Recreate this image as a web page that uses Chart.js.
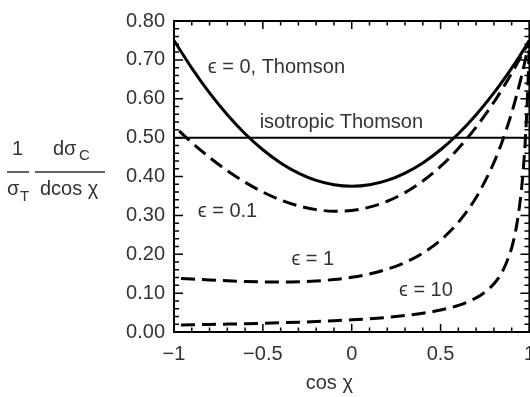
<!DOCTYPE html>
<html>
<head>
<meta charset="utf-8">
<script src="https://cdn.jsdelivr.net/npm/chart.js@4/dist/chart.umd.min.js"></script>
<style>
  html, body { margin: 0; padding: 0; background: #fff; overflow: hidden; }
  #wrap { position: relative; width: 545px; height: 397px; }
</style>
</head>
<body>
<div id="wrap"><canvas id="c"></canvas></div>
<script>
// ---- data ----
const xValues = [-1,-0.9,-0.8,-0.7,-0.6,-0.5,-0.4,-0.3,-0.2,-0.1,0,0.1,0.2,0.3,0.4,0.5,0.6,0.7,0.8,0.85,0.9,0.925,0.95,0.975,1];
const thomson = [0.75,0.6788,0.615,0.5588,0.51,0.4688,0.435,0.4088,0.39,0.3788,0.375,0.3788,0.39,0.4088,0.435,0.4688,0.51,0.5588,0.615,0.6459,0.6788,0.6958,0.7134,0.7315,0.75];
const eps01 = [0.5295,0.4873,0.4491,0.4149,0.3852,0.36,0.3397,0.3245,0.3148,0.3107,0.3127,0.3211,0.3363,0.3585,0.3883,0.426,0.4721,0.527,0.5913,0.6271,0.6654,0.6856,0.7064,0.7279,0.75];
const eps1 = [0.1389,0.1362,0.1338,0.1317,0.1301,0.129,0.1287,0.1294,0.1313,0.1349,0.1406,0.1492,0.1615,0.1788,0.2029,0.2361,0.2821,0.346,0.4358,0.494,0.5638,0.6039,0.6479,0.6965,0.75];
const xValues10 = [-1,-0.9,-0.8,-0.7,-0.6,-0.5,-0.4,-0.3,-0.2,-0.1,0,0.1,0.2,0.3,0.4,0.5,0.6,0.7,0.75,0.8,0.85,0.9,0.925,0.95,0.96,0.975,0.99,1];
const eps10 = [0.0179,0.0186,0.0194,0.0203,0.0213,0.0224,0.0237,0.0252,0.0269,0.0289,0.0313,0.0342,0.0377,0.0423,0.0482,0.0564,0.0684,0.0877,0.1025,0.1239,0.1574,0.2166,0.2666,0.3449,0.3895,0.4802,0.6165,0.75];
const isoX = [-1, 1];
const isotropic = [0.5, 0.5];

const xTicks = [-1, -0.5, 0, 0.5, 1];
const xTickLabels = ['\u22121', '\u22120.5', '0', '0.5', '1'];
const yTicks = [0, 0.1, 0.2, 0.3, 0.4, 0.5, 0.6, 0.7, 0.8];
const yTickLabels = ['0.00','0.10','0.20','0.30','0.40','0.50','0.60','0.70','0.80'];

const curveLabels = ['\u03f5 = 0, Thomson', 'isotropic Thomson', '\u03f5 = 0.1', '\u03f5 = 1', '\u03f5 = 10'];
const curveLabelAt = [[-0.81, 0.68], [-0.518, 0.54], [-0.866, 0.31], [-0.339, 0.1875], [0.266, 0.1075]];

// ---- build ----
const pts = (xs, ys) => xs.map((x, i) => ({x, y: ys[i]}));
const FONT = '"Liberation Sans", Arial, "DejaVu Sans", sans-serif';
const TXT = '#333';

function ds(data, dashed, width) {
  return {
    data, borderColor: '#000', borderWidth: width, pointRadius: 0,
    borderDash: dashed ? [14, 7] : [], borderDashOffset: dashed ? 14 : 0,
    cubicInterpolationMode: 'monotone', fill: false, clip: 2
  };
}

const framePlugin = {
  id: 'frame',
  afterDraw(chart) {
    const {ctx, chartArea: a, scales: {x, y}} = chart;
    ctx.save();
    ctx.strokeStyle = '#000';
    ctx.lineWidth = 2;
    ctx.strokeRect(a.left, a.top, a.right - a.left, a.bottom - a.top);
    ctx.lineWidth = 1.5;
    ctx.beginPath();
    for (let i = -10; i <= 10; i++) {
      const px = x.getPixelForValue(i / 10);
      const len = (i % 5 === 0) ? 8 : 4.5;
      ctx.moveTo(px, a.bottom); ctx.lineTo(px, a.bottom - len);
      ctx.moveTo(px, a.top); ctx.lineTo(px, a.top + len);
    }
    for (let i = 0; i <= 40; i++) {
      const py = y.getPixelForValue(i / 50);
      const len = (i % 5 === 0) ? 9 : 5;
      ctx.moveTo(a.left, py); ctx.lineTo(a.left + len, py);
      ctx.moveTo(a.right, py); ctx.lineTo(a.right - len, py);
    }
    ctx.stroke();

    // curve labels
    ctx.fillStyle = TXT;
    ctx.font = '20px ' + FONT;
    ctx.textAlign = 'left';
    ctx.textBaseline = 'middle';
    curveLabels.forEach((t, i) => {
      ctx.fillText(t, x.getPixelForValue(curveLabelAt[i][0]), y.getPixelForValue(curveLabelAt[i][1]));
    });

    // x title
    ctx.textAlign = 'center';
    ctx.textBaseline = 'alphabetic';
    ctx.fillText('cos \u03c7', x.getPixelForValue(-0.126), 389);

    // y title as fraction
    const num = 155, den = 195, bar = 172;
    ctx.textAlign = 'left';
    ctx.font = '20px ' + FONT;
    ctx.fillText('1', 12, num);
    ctx.fillText('\u03c3', 7, den);
    ctx.font = '15px ' + FONT;
    ctx.fillText('T', 20, den + 6);
    ctx.font = '20px ' + FONT;
    ctx.fillText('d\u03c3', 53, num);
    ctx.font = '15px ' + FONT;
    ctx.fillText('C', 79, num + 5);
    ctx.font = '20px ' + FONT;
    ctx.fillText('dcos \u03c7', 40, den);
    ctx.lineWidth = 1.6;
    ctx.strokeStyle = TXT;
    ctx.beginPath();
    ctx.moveTo(7, bar); ctx.lineTo(29, bar);
    ctx.moveTo(35, bar); ctx.lineTo(105, bar);
    ctx.stroke();
    ctx.restore();
  }
};

new Chart(document.getElementById('c'), {
  type: 'line',
  data: {
    datasets: [
      ds(pts(isoX, isotropic), false, 2),
      ds(pts(xValues10, eps10), true, 3),
      ds(pts(xValues, eps1), true, 3),
      ds(pts(xValues, eps01), true, 3),
      ds(pts(xValues, thomson), false, 3)
    ]
  },
  options: {
    responsive: true,
    maintainAspectRatio: false,
    animation: false,
    events: [],
    layout: { padding: { top: 12, right: 14, left: 0, bottom: 0 } },
    plugins: { legend: { display: false }, tooltip: { enabled: false } },
    scales: {
      x: {
        type: 'linear', min: -1, max: 1,
        grid: { display: false, drawTicks: false },
        border: { display: false },
        afterBuildTicks: s => { s.ticks = xTicks.map(v => ({value: v})); },
        afterFit: s => { s.height = 65; },
        ticks: {
          padding: 10, maxRotation: 0, autoSkip: false,
          color: TXT, font: { family: FONT, size: 20 },
          callback: (v) => { const i = xTicks.indexOf(v); return i >= 0 ? xTickLabels[i] : ''; }
        }
      },
      y: {
        type: 'linear', min: 0, max: 0.8,
        grid: { display: false, drawTicks: false },
        border: { display: false },
        afterBuildTicks: s => { s.ticks = yTicks.map(v => ({value: v})); },
        afterFit: s => { s.width = 174; },
        ticks: {
          padding: 9, autoSkip: false,
          color: TXT, font: { family: FONT, size: 20 },
          callback: (v) => { const i = yTicks.findIndex(t => Math.abs(t - v) < 1e-9); return i >= 0 ? yTickLabels[i] : ''; }
        }
      }
    }
  },
  plugins: [framePlugin]
});
</script>
</body>
</html>
